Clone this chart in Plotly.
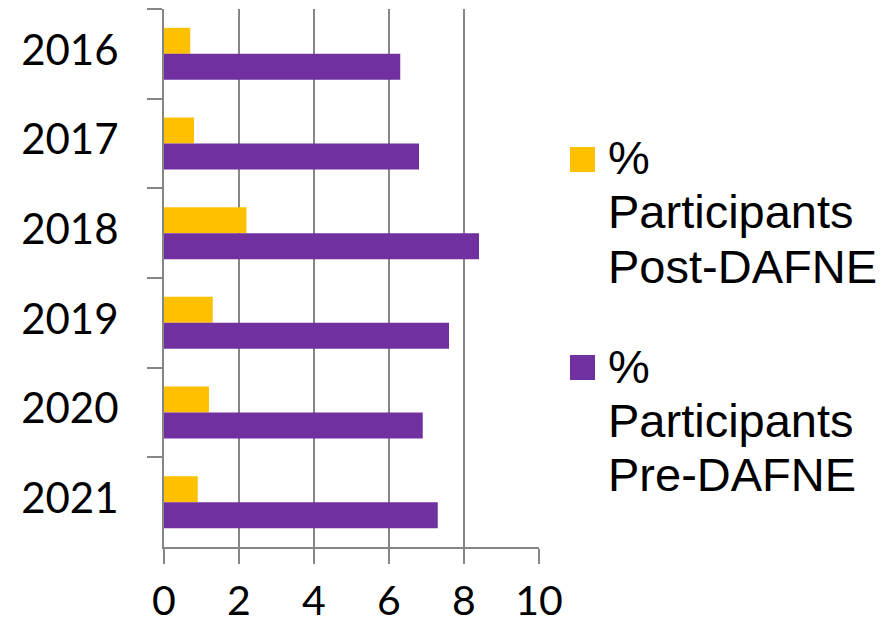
import plotly.graph_objects as go

# Data
years = ["2016", "2017", "2018", "2019", "2020", "2021"]
post_dafne = [0.7, 0.8, 2.2, 1.3, 1.2, 0.9]
pre_dafne = [6.3, 6.8, 8.4, 7.6, 6.9, 7.3]
series_names = ["% Participants Post-DAFNE", "% Participants Pre-DAFNE"]
legend_lines = [["%", "Participants", "Post-DAFNE"], ["%", "Participants", "Pre-DAFNE"]]
x_ticks = [0, 2, 4, 6, 8, 10]

GOLD = "#FFC000"
PURPLE = "#7030A0"
GRID = "#868686"

W, H = 889, 626
ML, MR, MT, MB = 164, 350, 9, 79
PW, PH = W - ML - MR, H - MT - MB


def px_to_paper(px, py):
    return (px - ML) / PW, (H - MB - py) / PH


fig = go.Figure()
fig.add_trace(go.Bar(y=years, x=post_dafne, orientation="h", name=series_names[0],
                     marker=dict(color=GOLD, line=dict(width=0))))
fig.add_trace(go.Bar(y=years, x=pre_dafne, orientation="h", name=series_names[1],
                     marker=dict(color=PURPLE, line=dict(width=0))))

tick_font = dict(family="Lato, Open Sans, sans-serif", size=42, color="#000000")

fig.update_layout(
    width=W, height=H,
    margin=dict(l=ML, r=MR, t=MT, b=MB, pad=0, autoexpand=False),
    paper_bgcolor="white", plot_bgcolor="white",
    barmode="group", bargap=0.42, bargroupgap=0,
    showlegend=False,
    xaxis=dict(range=[0, 10], tickvals=x_ticks, ticktext=[str(v) for v in x_ticks],
               showgrid=True, gridcolor=GRID, gridwidth=2,
               showline=True, linecolor=GRID, linewidth=2,
               ticks="outside", ticklen=15, tickwidth=2, tickcolor=GRID,
               ticklabelstandoff=2, tickfont=dict(tick_font, size=41), zeroline=False,
               automargin=False, fixedrange=True),
    yaxis=dict(autorange="reversed", type="category", tickson="boundaries",
               showgrid=False, showline=True, linecolor=GRID, linewidth=2,
               ticks="outside", ticklen=15, tickwidth=2, tickcolor=GRID,
               ticklabelstandoff=35, ticklabelshift=4, tickfont=tick_font,
               automargin=False, fixedrange=True),
)

# Legend drawn as squares and stacked text lines
legend_colors = [GOLD, PURPLE]
square_tops = [147, 355]
line_centers = [[157, 211, 266], [366, 420, 474]]
for color, top, lines, centers in zip(legend_colors, square_tops, legend_lines, line_centers):
    x0, y0 = px_to_paper(570, top + 25)
    x1, y1 = px_to_paper(595, top)
    fig.add_shape(type="rect", xref="paper", yref="paper", x0=x0, x1=x1, y0=y0, y1=y1,
                  fillcolor=color, line=dict(width=0))
    for text, cy in zip(lines, centers):
        ax, ay = px_to_paper(606, cy)
        fig.add_annotation(xref="paper", yref="paper", x=ax, y=ay, text=text,
                           showarrow=False, xanchor="left", yanchor="middle",
                           font=dict(family="Liberation Sans, Arial, sans-serif", size=47,
                                     color="#000000"))

fig.write_html("out.html")
